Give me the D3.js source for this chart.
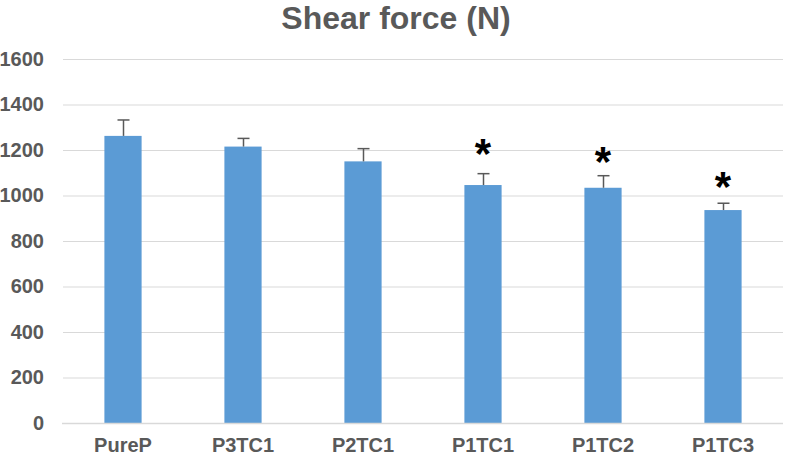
<!DOCTYPE html>
<html><head><meta charset="utf-8">
<script src="https://cdn.jsdelivr.net/npm/d3@7"></script>
<style>body{margin:0;background:#fff}svg{display:block}</style>
</head><body>
<svg id="c" width="787" height="456"></svg>
<script>
const categories = ["PureP","P3TC1","P2TC1","P1TC1","P1TC2","P1TC3"];
const values = [1262, 1215, 1150, 1046, 1034, 936];
const errors = [70, 36, 56, 50, 53, 30];
const starCategories = ["P1TC1","P1TC2","P1TC3"];
const starLevels = [1224, 1191, 1081];
const yTicks = [0,200,400,600,800,1000,1200,1400,1600];
const title = "Shear force (N)";

(function(){
const svg = d3.select("#c");
const pl = 63, pr = 783, pt = 59, pb = 423;
const x = d3.scaleBand().domain(categories).range([pl, pr]).paddingInner(0.69).paddingOuter(0.345);
const y = d3.scaleLinear().domain([0,1600]).range([pb, pt]);
const txt = "#595959";
const font = "'Liberation Sans', Arial, sans-serif";

// gridlines
svg.append("g").selectAll("line").data(yTicks.filter(d=>d>0)).join("line")
  .attr("x1", pl).attr("x2", pr)
  .attr("y1", d=>y(d)+0.5).attr("y2", d=>y(d)+0.5)
  .attr("stroke", "#d9d9d9").attr("stroke-width", 1);

// y axis labels
const ya = svg.append("g").attr("transform", `translate(${pl},0)`)
  .call(d3.axisLeft(y).tickValues(yTicks).tickFormat(d3.format("d")).tickSize(0).tickPadding(19));
ya.select(".domain").remove();
ya.selectAll("text").attr("fill", txt).style("font-family", font).style("font-size","20px").style("font-weight","bold");

// bars
svg.append("g").selectAll("rect").data(categories).join("rect")
  .attr("x", d=>x(d)).attr("width", x.bandwidth())
  .attr("y", (d,i)=>y(values[i])).attr("height", (d,i)=>pb - y(values[i]))
  .attr("fill", "#5B9BD5");

// error bars
const eb = svg.append("g").attr("stroke", "#595959").attr("stroke-width", 1.5);
categories.forEach((c,i)=>{
  const cx = Math.round(x(c) + x.bandwidth()/2) + 0.5;
  eb.append("line").attr("x1", cx).attr("x2", cx).attr("y1", y(values[i])).attr("y2", y(values[i]+errors[i]));
  eb.append("line").attr("x1", cx-6).attr("x2", cx+6).attr("y1", y(values[i]+errors[i])).attr("y2", y(values[i]+errors[i]));
});

// significance stars (centred on starLevels)
svg.append("g").selectAll("text").data(starCategories).join("text")
  .attr("x", d=>x(d)+x.bandwidth()/2)
  .attr("y", (d,i)=>y(starLevels[i]) + 23.5)
  .attr("text-anchor","middle")
  .attr("fill","#000").style("font-family", font).style("font-size","42px").style("font-weight","bold")
  .text("*");

// x axis
const xa = svg.append("g").attr("transform", `translate(0,${pb})`)
  .call(d3.axisBottom(x).tickSize(0).tickPadding(15));
xa.select(".domain").attr("stroke", "#d9d9d9").attr("stroke-width", 1.5).attr("d", `M${pl-1},0.5H${pr}`);
xa.selectAll("text").attr("fill", txt).style("font-family", font).style("font-size","20px").style("font-weight","bold");

// title
svg.append("text").attr("x", 396).attr("y", 29).attr("text-anchor","middle")
  .attr("fill", txt).style("font-family", font).style("font-size","32px").style("font-weight","bold")
  .text(title);
})();
</script>
</body></html>
